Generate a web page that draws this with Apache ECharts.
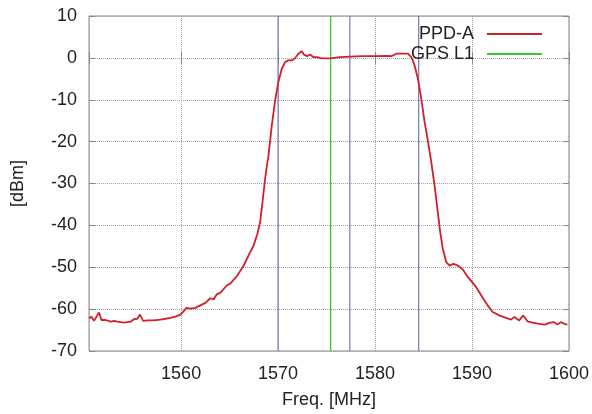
<!DOCTYPE html>
<html><head><meta charset="utf-8">
<script src="https://cdn.jsdelivr.net/npm/echarts@6/dist/echarts.min.js"></script>
<style>html,body{margin:0;padding:0;background:#fff}#c{width:592px;height:414px}</style>
</head><body><div id="c"></div>
<script>
// Frequency samples (MHz) of the PPD-A trace
const freqMHz = [1550.50,1550.75,1551.02,1551.19,1551.53,1551.78,1552.22,1552.74,1553.07,1553.42,
  1554.10,1554.79,1555.13,1555.48,1555.75,1556.09,1556.51,1557.18,1557.87,1558.39,
  1558.90,1559.41,1559.93,1560.27,1560.54,1560.96,1561.47,1561.98,1562.50,1563.01,
  1563.35,1563.70,1564.04,1564.73,1565.07,1565.76,1566.43,1567.12,1567.46,1567.87,
  1568.15,1568.43,1568.66,1568.90,1569.00,1569.35,1569.69,1570.03,1570.38,1570.72,
  1571.06,1571.41,1571.75,1572.09,1572.44,1572.70,1573.01,1573.29,1573.63,1573.98,
  1574.49,1575.34,1576.37,1577.40,1578.77,1580.14,1581.17,1581.69,1582.20,1582.88,
  1583.39,1583.74,1584.08,1584.42,1584.77,1585.11,1585.45,1585.80,1586.14,1586.47,
  1586.72,1586.99,1587.34,1587.68,1588.09,1588.53,1589.04,1589.56,1590.42,1591.10,
  1591.61,1592.13,1592.82,1593.50,1594.02,1594.36,1594.87,1595.28,1595.72,1596.24,
  1596.93,1597.54,1597.95,1598.47,1598.81,1599.16,1599.50,1599.84];
// Power (dBm) of the PPD-A trace
const ppdA = [-62.2,-61.8,-62.8,-62.9,-60.8,-62.6,-62.6,-63.0,-62.8,-63.0,
  -63.2,-63.0,-62.4,-62.3,-61.3,-62.8,-62.7,-62.7,-62.5,-62.3,
  -62.1,-61.8,-61.3,-60.5,-59.7,-59.9,-59.7,-59.1,-58.5,-57.4,
  -57.7,-56.4,-56.1,-54.3,-53.9,-52.1,-49.7,-46.4,-44.9,-42.0,
  -39.2,-33.7,-28.9,-24.9,-23.6,-16.2,-10.2,-5.8,-2.6,-1.0,
  -0.6,-0.6,-0.1,1.0,1.6,0.7,0.4,0.8,0.2,0.2,
  -0.1,-0.1,0.2,0.3,0.4,0.4,0.5,0.4,1.0,1.0,
  1.0,0.2,-1.8,-5.0,-9.8,-15.3,-19.8,-24.9,-30.5,-36.8,
  -41.6,-45.6,-48.8,-49.6,-49.2,-49.6,-50.5,-52.3,-54.7,-57.3,
  -59.1,-60.7,-61.5,-62.1,-62.5,-61.9,-62.7,-61.5,-62.9,-63.2,
  -63.5,-63.7,-63.3,-63.1,-63.7,-63.1,-63.5,-63.7];
const gpsL1Freq = 1575.42;
const markerFreqs = [1570.0, 1577.4, 1584.5];
const yRange = [-70, 10];
const xRange = [1550.5, 1600];

const FONT = 'Liberation Sans, Arial, sans-serif';
const TXT = '#222';
const chart = echarts.init(document.getElementById('c'), null, {renderer: 'canvas'});

const mirrorX = {type: 'value', min: xRange[0], max: xRange[1], splitNumber: 5, position: 'top',
  axisLine: {show: false}, axisLabel: {show: false}, splitLine: {show: false},
  axisTick: {show: true, inside: true, length: 6, lineStyle: {color: '#888'}}};
const mirrorY = {type: 'value', min: yRange[0], max: yRange[1], interval: 10, position: 'right',
  axisLine: {show: false}, axisLabel: {show: false}, splitLine: {show: false},
  axisTick: {show: true, inside: true, length: 6, lineStyle: {color: '#888'}}};

const series = [
  {name: 'PPD-A', type: 'line', xAxisIndex: 0, yAxisIndex: 0, showSymbol: false, symbol: 'none', z: 5,
   data: freqMHz.map((f, i) => [f, ppdA[i]]),
   lineStyle: {color: '#d0202c', width: 1.8}, itemStyle: {color: '#d0202c'}},
  {name: 'GPS L1', type: 'line', showSymbol: false, symbol: 'none', z: 4,
   data: [[gpsL1Freq, yRange[0]], [gpsL1Freq, yRange[1]]],
   lineStyle: {color: '#33cc33', width: 1.3}, itemStyle: {color: '#33cc33'}}
];
markerFreqs.forEach((f, k) => series.push({
  name: 'marker' + k, type: 'line', showSymbol: false, symbol: 'none', z: 3, silent: true,
  data: [[f, yRange[0]], [f, yRange[1]]],
  lineStyle: {color: '#7777b5', width: 1.2}
}));

chart.setOption({
  animation: false,
  backgroundColor: '#fff',
  textStyle: {fontFamily: FONT},
  grid: {left: 89, right: 22, top: 16, bottom: 61, show: true, borderColor: '#888', borderWidth: 1, containLabel: false},
  legend: {
    data: ['PPD-A', 'GPS L1'], orient: 'vertical', right: 45, top: 20, align: 'right',
    icon: 'rect', itemWidth: 55, itemHeight: 2, itemGap: 2,
    textStyle: {fontSize: 18, color: TXT, fontFamily: FONT, padding: [0, 8, 0, 0]}
  },
  xAxis: [{
    type: 'value', min: xRange[0], max: xRange[1], splitNumber: 5,
    name: 'Freq. [MHz]', nameLocation: 'middle', nameGap: 40,
    nameTextStyle: {fontSize: 18, color: TXT, fontFamily: FONT},
    axisLine: {show: false},
    axisTick: {show: true, inside: true, length: 6, lineStyle: {color: '#888'}},
    axisLabel: {fontSize: 18, color: TXT, margin: 14, fontFamily: FONT,
      formatter: v => (Math.abs(v % 10) < 1e-6 ? String(v) : '')},
    splitLine: {show: true, lineStyle: {color: '#a0a0a0', type: 'dotted', width: 1}}
  }, mirrorX],
  yAxis: [{
    type: 'value', min: yRange[0], max: yRange[1], interval: 10,
    name: '[dBm]', nameLocation: 'middle', nameGap: 62, nameRotate: 90,
    nameTextStyle: {fontSize: 18, color: TXT, fontFamily: FONT},
    axisLine: {show: false},
    axisTick: {show: true, inside: true, length: 6, lineStyle: {color: '#888'}},
    axisLabel: {fontSize: 18, color: TXT, margin: 12, fontFamily: FONT},
    splitLine: {show: true, lineStyle: {color: '#a0a0a0', type: 'dotted', width: 1}}
  }, mirrorY],
  series: series
});
</script></body></html>
